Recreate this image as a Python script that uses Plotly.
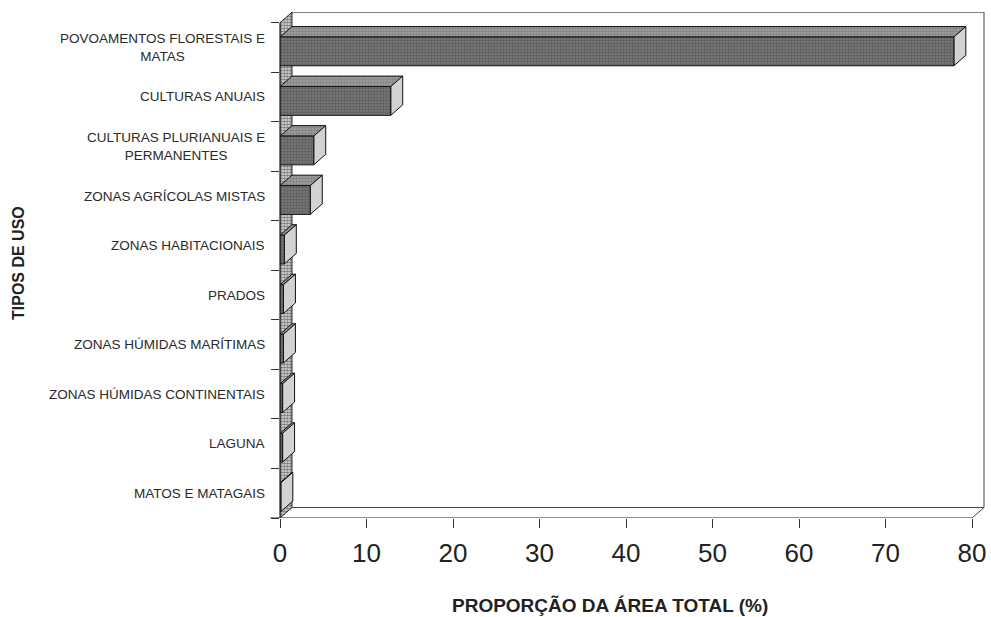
import plotly.graph_objects as go

# Land-use categories (top to bottom) and their share of the total area (%)
categories = [
    "POVOAMENTOS FLORESTAIS E<br>MATAS",
    "CULTURAS ANUAIS",
    "CULTURAS PLURIANUAIS E<br>PERMANENTES",
    "ZONAS AGRÍCOLAS MISTAS",
    "ZONAS HABITACIONAIS",
    "PRADOS",
    "ZONAS HÚMIDAS MARÍTIMAS",
    "ZONAS HÚMIDAS CONTINENTAIS",
    "LAGUNA",
    "MATOS E MATAGAIS",
]
values = [77.9, 12.8, 3.9, 3.5, 0.5, 0.4, 0.4, 0.3, 0.3, 0.1]
x_ticks = [0, 10, 20, 30, 40, 50, 60, 70, 80]

X_MAX = 81.5
Y_TOP = -0.716
DX = 1.384      # depth offset along x (axis units)
DZ = 0.212      # depth offset along y (axis units)
BAR_H = 0.58
BAR_OFF = 0.08

n = len(categories)
fig = go.Figure()

# checkered side wall
fig.add_trace(go.Scatter(
    x=[0, DX, DX, 0, 0],
    y=[-0.5, -0.5 - DZ, n - 0.5 - DZ, n - 0.5, -0.5],
    mode="lines", fill="toself",
    fillcolor="#9a9a9a",
    fillpattern=dict(shape=".", size=3, solidity=0.65, fgcolor="#111111", bgcolor="#e6e6e6"),
    line=dict(color="#222222", width=1),
    hoverinfo="skip", showlegend=False,
))

for i, v in enumerate(values):
    yc = i + BAR_OFF
    yt = yc - BAR_H / 2
    yb = yc + BAR_H / 2
    # top face
    fig.add_trace(go.Scatter(
        x=[0, v, v + DX, DX, 0],
        y=[yt, yt, yt - DZ, yt - DZ, yt],
        mode="lines", fill="toself",
        fillcolor="#959595",
        fillpattern=dict(shape=".", size=3, solidity=0.4, fgcolor="#5c5c5c", bgcolor="#9c9c9c"),
        line=dict(color="#111111", width=1),
        hoverinfo="skip", showlegend=False,
    ))
    # end face
    fig.add_trace(go.Scatter(
        x=[v, v + DX, v + DX, v, v],
        y=[yt, yt - DZ, yb - DZ, yb, yt],
        mode="lines", fill="toself",
        fillcolor="#d2d2d2",
        line=dict(color="#111111", width=1),
        hoverinfo="skip", showlegend=False,
    ))
    # front face
    fig.add_trace(go.Scatter(
        x=[0, v, v, 0, 0],
        y=[yt, yt, yb, yb, yt],
        mode="lines", fill="toself",
        fillcolor="#747474",
        fillpattern=dict(shape=".", size=3, solidity=0.5, fgcolor="#3e3e3e", bgcolor="#7c7c7c"),
        line=dict(color="#111111", width=1),
        hoverinfo="skip", showlegend=False,
    ))

frame = dict(color="#444444", width=1)
shapes = [
    # back wall top edge, right edge, floor back edge
    dict(type="line", xref="x", yref="y", x0=DX, x1=80 + DX, y0=-0.5 - DZ, y1=-0.5 - DZ, line=frame),
    dict(type="line", xref="x", yref="y", x0=80 + DX, x1=80 + DX, y0=-0.5 - DZ, y1=n - 0.5 - DZ, line=frame),
    dict(type="line", xref="x", yref="y", x0=DX, x1=80 + DX, y0=n - 0.5 - DZ, y1=n - 0.5 - DZ, line=frame),
    dict(type="line", xref="x", yref="y", x0=80, x1=80 + DX, y0=n - 0.5, y1=n - 0.5 - DZ, line=frame),
    # front floor edge and vertical axis line
    dict(type="line", xref="paper", yref="y", x0=-10 / 705, x1=80 / X_MAX, y0=n - 0.5, y1=n - 0.5,
         line=dict(color="#222222", width=1.2)),
    dict(type="line", xref="paper", yref="y", x0=0, x1=0, y0=-0.5, y1=n - 0.5,
         line=dict(color="#222222", width=1.2)),
]

annotations = []
for i, c in enumerate(categories):
    annotations.append(dict(
        text=c, xref="paper", yref="y", x=-13 / 705, y=i,
        xanchor="right", yanchor="middle", align="center", showarrow=False,
        font=dict(family="Liberation Sans, Arial, sans-serif", size=13.5, color="#2a2a2a"),
    ))
annotations.append(dict(
    text="<b>PROPORÇÃO DA ÁREA TOTAL (%)</b>", xref="paper", yref="paper",
    x=(610 - 280) / 705, y=-(605 - 518) / 506, xanchor="center", yanchor="middle",
    showarrow=False,
    font=dict(family="Liberation Sans, Arial, sans-serif", size=19, color="#222222"),
))
annotations.append(dict(
    text="<b>TIPOS DE USO</b>", xref="paper", yref="paper",
    x=-(280 - 18) / 705, y=(518 - 263) / 506, xanchor="center", yanchor="middle",
    textangle=-90, showarrow=False,
    font=dict(family="Liberation Sans, Arial, sans-serif", size=16, color="#222222"),
))

fig.update_layout(
    width=991, height=617,
    margin=dict(l=280, r=6, t=12, b=99),
    paper_bgcolor="white", plot_bgcolor="white",
    showlegend=False,
    shapes=shapes,
    annotations=annotations,
    xaxis=dict(
        range=[0, X_MAX], tickvals=x_ticks, ticktext=[str(t) for t in x_ticks],
        ticks="outside", ticklen=9, tickcolor="#333333", tickwidth=1,
        showgrid=False, zeroline=False, showline=False,
        tickfont=dict(family="Liberation Sans, Arial, sans-serif", size=26, color="#222222"),
        ticklabelstandoff=3,
    ),
    yaxis=dict(
        range=[n - 0.5, Y_TOP], tickvals=[k - 0.5 for k in range(n + 1)],
        ticks="outside", ticklen=8, tickcolor="#333333", tickwidth=1,
        showticklabels=False, showgrid=False, zeroline=False, showline=False,
    ),
)

fig.write_html("out.html")
